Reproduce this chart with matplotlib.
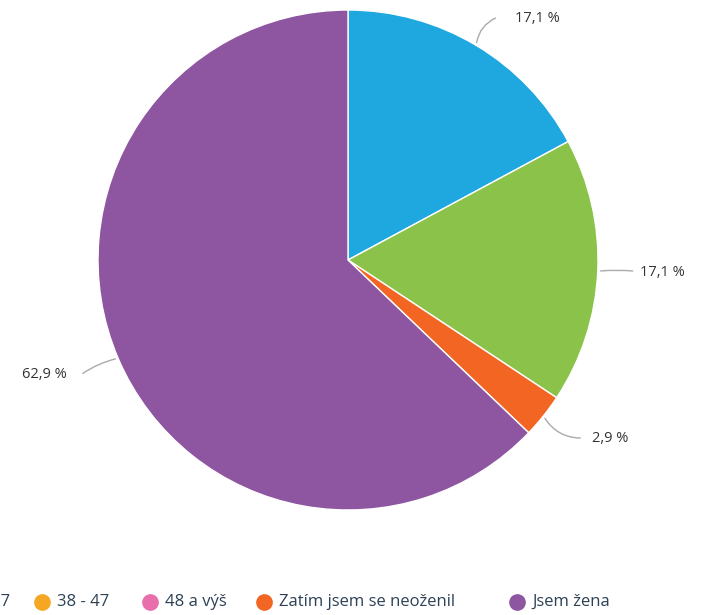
import matplotlib.pyplot as plt
import numpy as np

plt.rcParams['font.family'] = ['Open Sans', 'DejaVu Sans']

# Answers (counts) and colors
labels = ['18 - 27', '28 - 37', '38 - 47', '48 a výš', 'Zatím jsem se neoženil', 'Jsem žena']
counts = [6, 6, 0, 0, 1, 22]
colors = ['#1fa8e0', '#8bc34a', '#f5a623', '#e86fab', '#f26522', '#8e55a0']
pct_text = ['17,1 %', '17,1 %', '', '', '2,9 %', '62,9 %']

fig = plt.figure(figsize=(7.09, 6.15), dpi=100)
ax = fig.add_axes([98 / 709, 105 / 615, 500 / 709, 500 / 615])

vals = [c for c in counts if c > 0]
cols = [colors[i] for i, c in enumerate(counts) if c > 0]
txts = [pct_text[i] for i, c in enumerate(counts) if c > 0]

wedges, _ = ax.pie(vals, colors=cols, startangle=90, counterclock=False,
                   wedgeprops=dict(edgecolor='white', linewidth=1))
ax.set_xlim(-1, 1)
ax.set_ylim(-1, 1)
ax.set_aspect('equal')
ax.axis('off')

# label placement (text anchor, line end, curvature)
label_pos = [
    ((0.668, 0.968), 'left', (0.60, 0.972), 0.3),
    ((1.168, -0.052), 'left', (1.15, -0.045), 0.05),
    ((0.976, -0.712), 'left', (0.94, -0.712), -0.3),
    ((-1.124, -0.46), 'right', (-1.07, -0.46), -0.1),
]
for w, t, (tp, ha, lend, rad) in zip(wedges, txts, label_pos):
    ang = np.deg2rad((w.theta1 + w.theta2) / 2)
    xy = (np.cos(ang), np.sin(ang))
    ax.annotate('', xy=xy, xytext=lend,
                arrowprops=dict(arrowstyle='-', color='#aaaaaa', lw=1,
                                connectionstyle=f'arc3,rad={rad}'))
    ax.text(tp[0], tp[1], t, ha=ha, va='center', fontsize=10.5, color='#333333')

# legend row (overflows the left edge like the original)
leg_x = [-165, -57, 42, 150, 264, 517]
for x, lab, c in zip(leg_x, labels, colors):
    fig.add_artist(plt.Line2D([x / 709], [13 / 615], marker='o', markersize=11,
                              color=c, linestyle='', transform=fig.transFigure))
    fig.text((x + 15) / 709, 13 / 615, lab, ha='left', va='center',
             fontsize=12, color='#2d4155')

fig.savefig('out.png', dpi=100)
